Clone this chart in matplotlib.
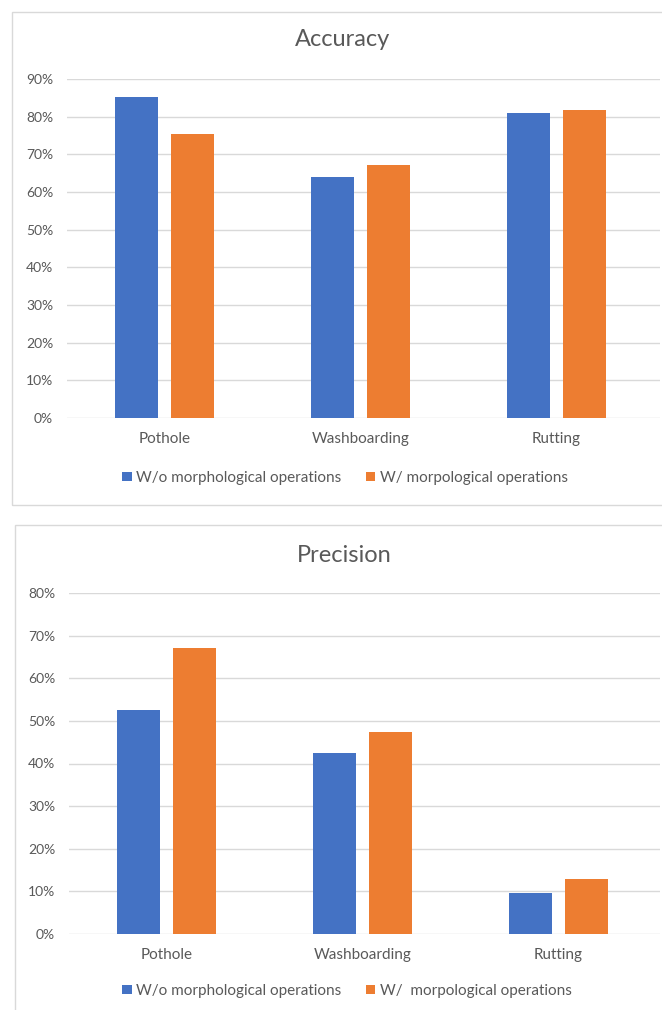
import matplotlib
matplotlib.use('Agg')
import matplotlib.pyplot as plt
import numpy as np
from matplotlib.patches import Rectangle
from matplotlib.ticker import PercentFormatter

plt.rcParams['font.family'] = ['Lato', 'DejaVu Sans']

categories = ['Pothole', 'Washboarding', 'Rutting']
series_names = ['W/o morphological operations', 'W/ morpological operations']
series_names_precision = ['W/o morphological operations', 'W/  morpological operations']

accuracy_without = [0.853, 0.639, 0.809]
accuracy_with = [0.755, 0.673, 0.819]

precision_without = [0.525, 0.425, 0.097]
precision_with = [0.672, 0.474, 0.128]

BLUE = '#4472C4'
ORANGE = '#ED7D31'
GRID = '#D9D9D9'
TEXT = '#595959'

W, H = 662, 1010
fig = plt.figure(figsize=(W / 100, H / 100), dpi=100)


def px_axes(x0, y0, x1, y1):
    # pixel box (top-left origin) -> figure fraction axes
    return fig.add_axes([x0 / W, 1 - y1 / H, (x1 - x0) / W, (y1 - y0) / H])


def panel(x0, y0, x1, y1):
    fig.patches.append(Rectangle((x0 / W, 1 - y1 / H), (x1 - x0) / W, (y1 - y0) / H,
                                 transform=fig.transFigure, fill=False,
                                 edgecolor='#D9D9D9', linewidth=1.0))


def bar_chart(ax, vals_a, vals_b, ymax, title, title_xy, legend_xy, names, extra_right):
    x = np.arange(len(categories))
    width = 0.22
    off = 0.143
    b1 = ax.bar(x - off, vals_a, width, color=BLUE, zorder=3)
    b2 = ax.bar(x + off, vals_b, width, color=ORANGE, zorder=3)
    # gridlines run a little past the last category slot
    ax.set_xlim(-0.5, len(categories) - 0.5 + extra_right)
    ax.set_ylim(0, ymax)
    ax.set_yticks(np.arange(0, ymax + 0.001, 0.1))
    ax.yaxis.set_major_formatter(PercentFormatter(1.0, decimals=0))
    ax.set_xticks(x)
    ax.set_xticklabels(categories)
    ax.tick_params(axis='y', length=0, pad=10, labelsize=10, labelcolor=TEXT)
    ax.tick_params(axis='x', length=0, pad=10, labelsize=11, labelcolor=TEXT)
    ax.grid(axis='y', color=GRID, linewidth=1.0, zorder=0)
    for s in ax.spines.values():
        s.set_visible(False)
    ax.set_facecolor('none')
    fig.text(title_xy[0] / W, 1 - title_xy[1] / H, title,
             ha='center', va='center', fontsize=17, color=TEXT)
    fig.legend([b1, b2], names, loc='center',
               bbox_to_anchor=(legend_xy[0] / W, 1 - legend_xy[1] / H),
               ncol=2, frameon=False, fontsize=11, labelcolor=TEXT,
               handlelength=0.6, handleheight=0.6, handletextpad=0.3,
               columnspacing=1.6)


panel(12, 12, 668, 505)
panel(15, 525, 668, 1030)

# one category slot is 195.5 px wide; extend axes to the panel edge
ax1 = px_axes(67, 79, 660, 418)
bar_chart(ax1, accuracy_without, accuracy_with, 0.9, 'Accuracy', (343, 40), (345, 478),
          series_names, 6 / 195.5)

ax2 = px_axes(69, 593, 660, 934)
bar_chart(ax2, precision_without, precision_with, 0.8, 'Precision', (344, 555), (347, 991),
          series_names_precision, 4 / 195.5)

fig.savefig('out.png', dpi=100, facecolor='white')
